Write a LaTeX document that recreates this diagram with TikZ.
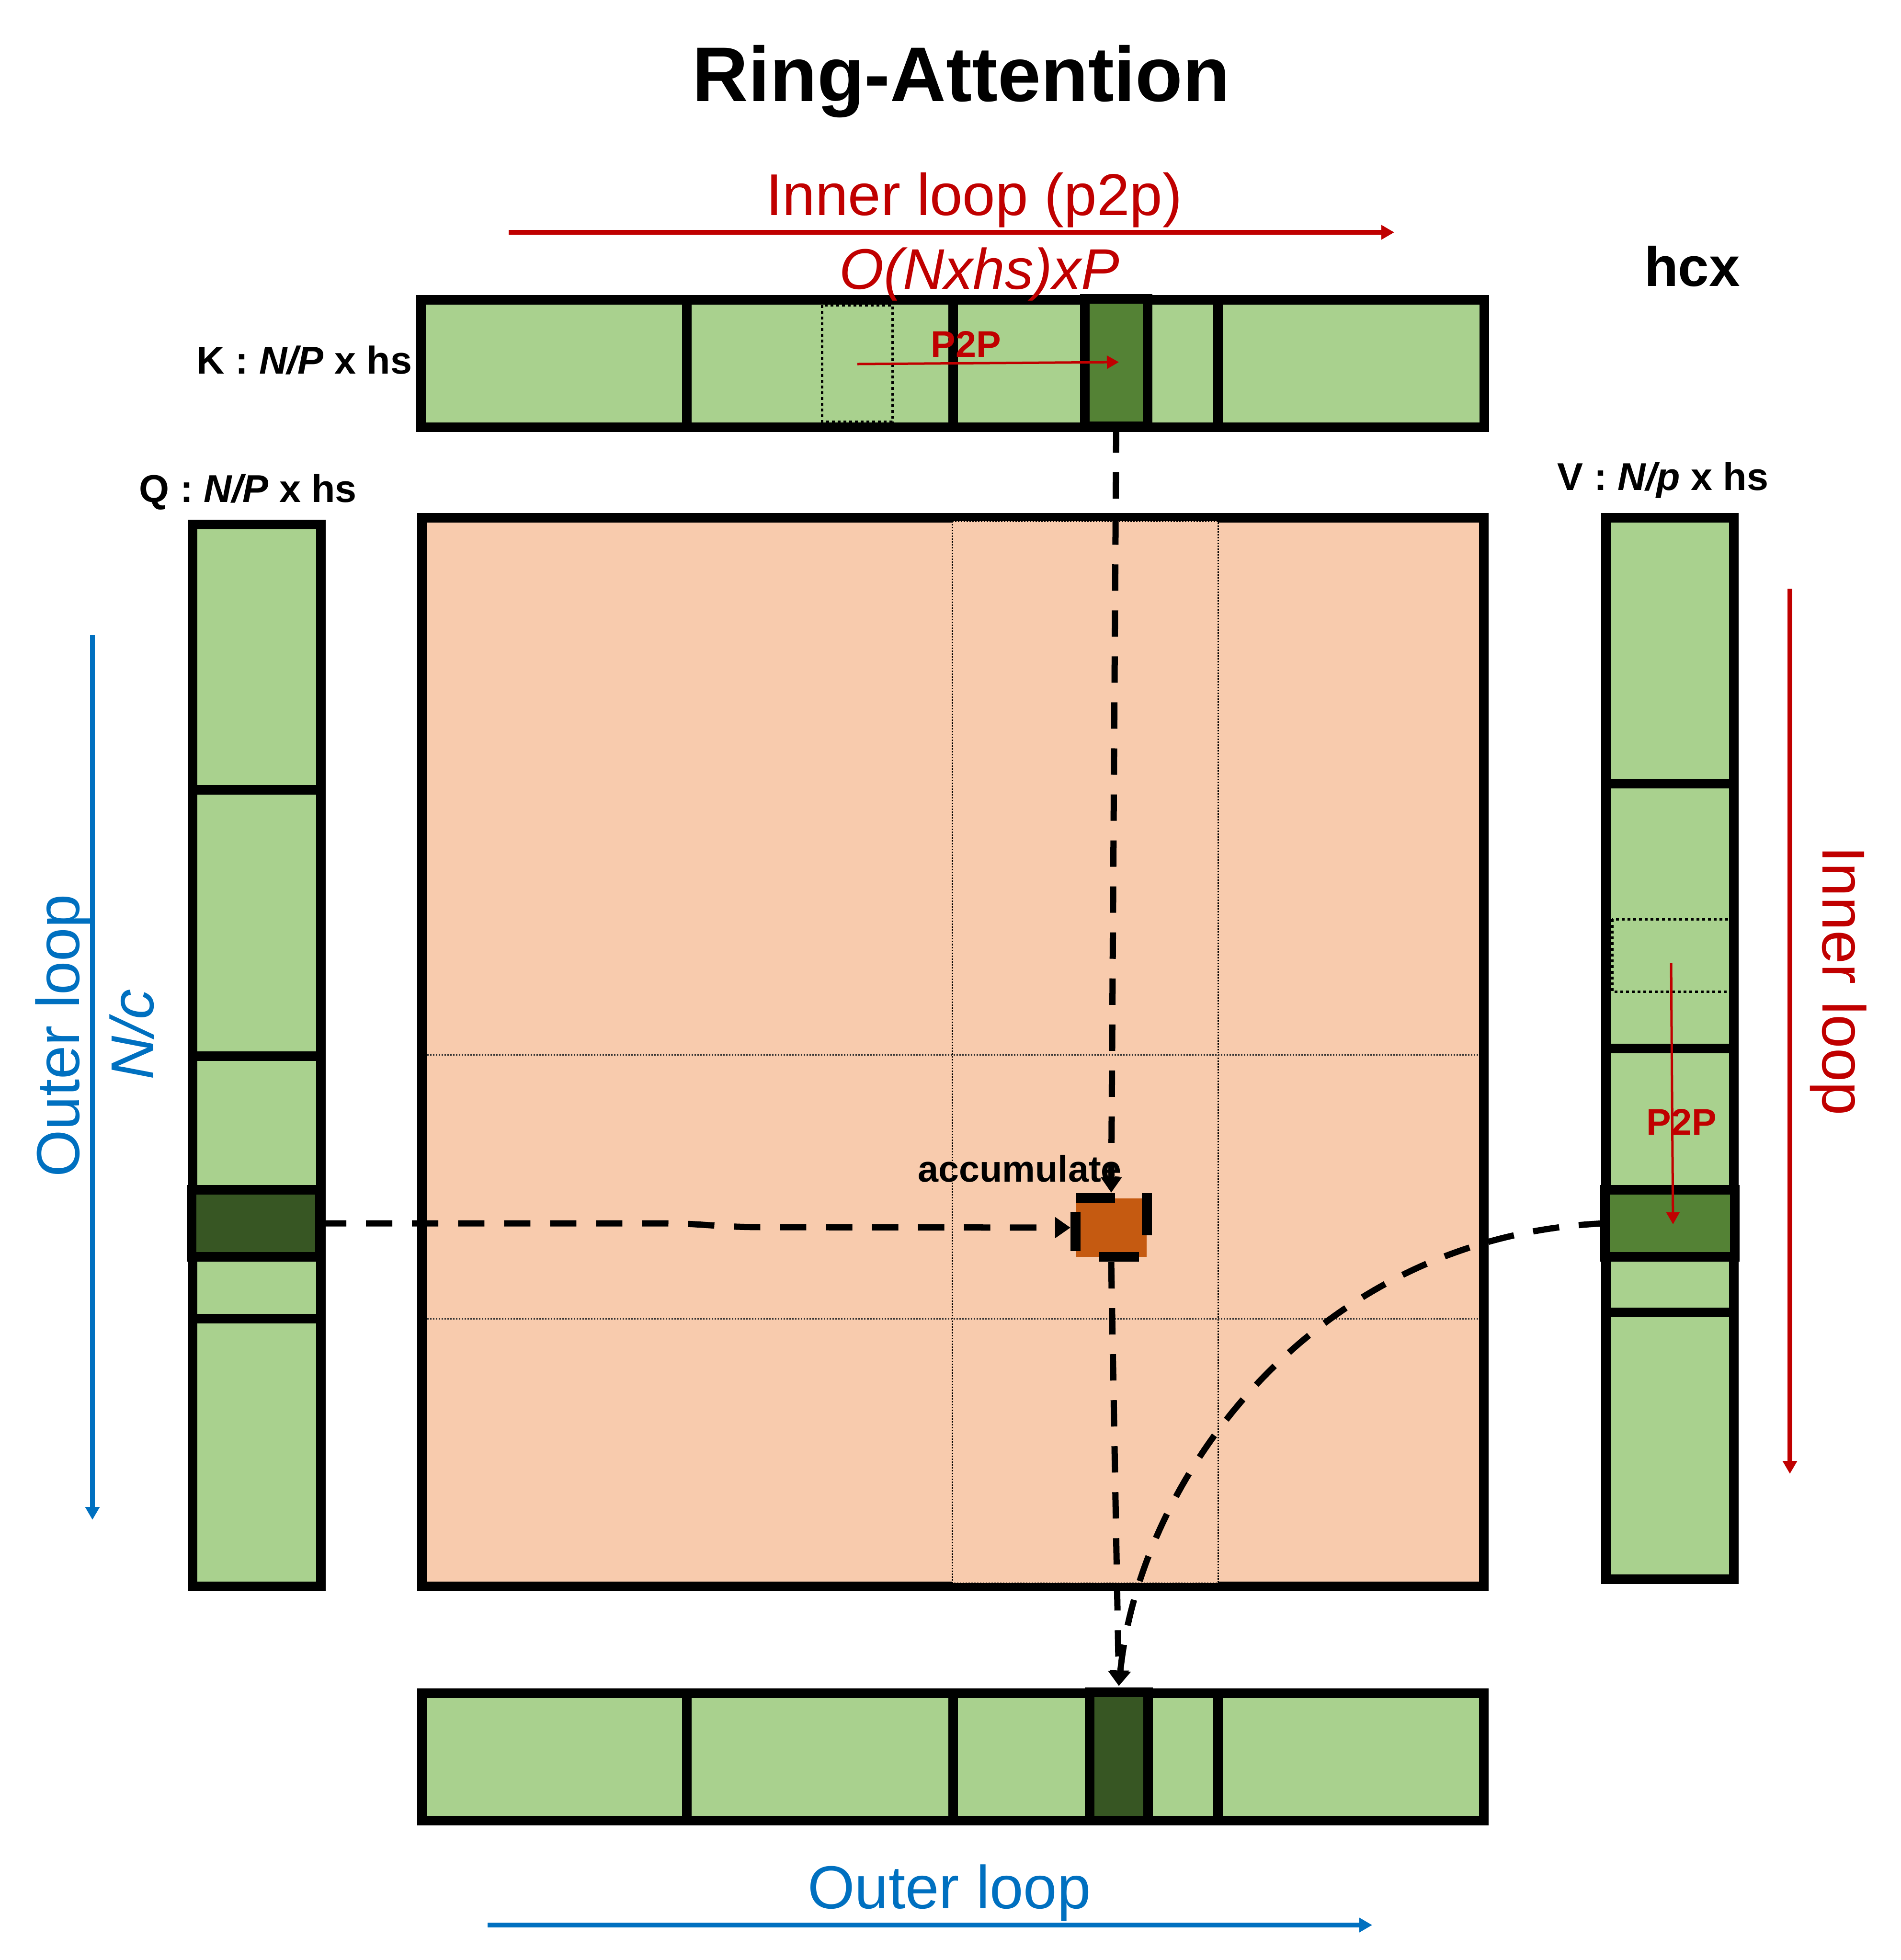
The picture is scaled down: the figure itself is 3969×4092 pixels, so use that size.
\documentclass[tikz,border=0pt]{standalone}
\usepackage{fontspec}
\setmainfont{Liberation Sans}
\usetikzlibrary{arrows.meta}
\definecolor{lgreen}{HTML}{A9D18E}
\definecolor{mgreen}{HTML}{548235}
\definecolor{dgreen}{HTML}{375623}
\definecolor{peach}{HTML}{F8CBAD}
\definecolor{orng}{HTML}{C55A11}
\definecolor{dred}{HTML}{C00000}
\definecolor{dblue}{HTML}{0070C0}
\begin{document}
\begin{tikzpicture}[x=0.01cm,y=-0.01cm,
  thickb/.style={draw=black,line width=0.2cm},
  blk/.style={thickb,inner sep=0pt,outer sep=0pt,anchor=center},
  dotrect/.style={draw=black,line width=0.05cm,dash pattern=on 0.06cm off 0.06cm},
  thinline/.style={draw=black!80,line width=0.03cm,dash pattern=on 0.03cm off 0.03cm},
  conn/.style={draw=black,line width=0.13cm,dash pattern=on 0.55cm off 0.41cm,-{Triangle[length=0.32cm,width=0.42cm]}},
  redarr/.style={draw=dred,line width=0.1cm,-{Triangle[length=0.27cm,width=0.29cm]}},
  bluearr/.style={draw=dblue,line width=0.1cm,-{Triangle[length=0.27cm,width=0.29cm]}},
  p2parr/.style={draw=dred,line width=0.05cm,-{Triangle[length=0.25cm,width=0.27cm]}},
  lbl/.style={anchor=base,inner sep=0pt,font=\bfseries\fontsize{23}{26}\selectfont},
  ptext/.style={anchor=base,inner sep=0pt,text=dred,font=\bfseries\fontsize{22}{25}\selectfont},
  bigtext/.style={anchor=base,inner sep=0pt,font=\fontsize{36}{40}\selectfont}]
\useasboundingbox (0,0) rectangle (3969,4092);

% main matrix
\node[blk,fill=peach,minimum width=22.15cm,minimum height=22.29cm] (mat) at (1989.5,2196.5) {};
\path[fill=peach,draw=black,line width=0.03cm,dash pattern=on 0.03cm off 0.03cm] (1988,1088) rectangle (2543,3305);
\draw[thinline] (892,2202) -- (3087,2202);
\draw[thinline] (892,2753) -- (3087,2753);

% K bar
\node[blk,fill=lgreen,minimum width=22.18cm,minimum height=2.66cm] (kbar) at (1989,759) {};
\foreach \x in {1434,1990,2543} \draw[thickb] (\x,626) -- (\x,892);
\draw[dotrect] (1716,637) rectangle (1863,880);
\node[blk,fill=mgreen,minimum width=1.31cm,minimum height=2.66cm] (kdark) at (2330.5,757) {};

% bottom bar
\node[blk,fill=lgreen,minimum width=22.15cm,minimum height=2.66cm] (bbar) at (1989.5,3668) {};
\foreach \x in {1434,1990,2543} \draw[thickb] (\x,3535) -- (\x,3801);
\node[blk,fill=dgreen,minimum width=1.22cm,minimum height=2.68cm] (bdark) at (2336,3667) {};

% Q bar
\node[blk,fill=lgreen,minimum width=2.68cm,minimum height=22.15cm] (qbar) at (536,2203.5) {};
\foreach \y in {1649,2205,2753} \draw[thickb] (402,\y) -- (670,\y);
\node[blk,fill=dgreen,minimum width=2.68cm,minimum height=1.40cm] (qdark) at (534,2554) {};

% V bar
\node[blk,fill=lgreen,minimum width=2.67cm,minimum height=22.14cm] (vbar) at (3486.5,2189) {};
\foreach \y in {1636,2189,2740} \draw[thickb] (3353,\y) -- (3620,\y);
\draw[dotrect] (3366,1919) rectangle (3612,2070);
\node[blk,fill=mgreen,minimum width=2.71cm,minimum height=1.40cm] (vdark) at (3486.5,2554) {};

% accumulate block
\node[fill=orng,inner sep=0pt,outer sep=0pt,minimum width=1.48cm,minimum height=1.22cm] (acc) at (2320,2563) {};
\fill[black] (2246,2491) rectangle (2328,2512);
\fill[black] (2384,2491) rectangle (2405,2579);
\fill[black] (2235,2530) rectangle (2256,2612);
\fill[black] (2295,2614) rectangle (2378,2634);

% connectors
\draw[conn] (kdark.south) -- ([yshift=0.12cm]acc.north);
\draw[conn] (qdark.east) -- (1380,2554) .. controls (1470,2554) and (1490,2562) .. (1600,2562) -- ([xshift=-0.11cm]acc.west);
\draw[conn] ([yshift=-0.11cm]acc.south) -- ([yshift=0.13cm]bdark.north);
\draw[conn] (vdark.west) .. controls (2750,2580) and (2380,3080) .. ([yshift=0.13cm]bdark.north);

% P2P arrows
\draw[p2parr] (1790,760) -- (2336,756);
\node[ptext] (kp2p) at (2017,745) {P2P};
\draw[p2parr] (3489,2011) -- (3493,2556);
\node[ptext] (vp2p) at (3511,2369) {P2P};

% loop arrows
\draw[redarr] (1062,485) -- (2911,485);
\draw[redarr] (3737,1229) -- (3737,3077);
\draw[bluearr] (193,1326) -- (193,3173);
\draw[bluearr] (1018,4019) -- (2865,4019);

% texts
\node[anchor=base,inner sep=0pt,font=\bfseries\fontsize{46}{50}\selectfont] (title) at (2007,211) {Ring-Attention};
\node[bigtext,text=dred,font=\fontsize{35}{40}\selectfont] (inner) at (2034,449) {Inner loop (p2p)};
\node[bigtext,text=dred,font=\itshape\fontsize{34}{40}\selectfont] (cost) at (2045,603) {O(Nxhs)xP};
\node[anchor=base,inner sep=0pt,font=\bfseries\fontsize{33}{38}\selectfont] (hcx) at (3533,597) {hcx};
\node[lbl,anchor=base east] (klab) at (861,780) {K : \textit{N/P} x hs};
\node[lbl] (qlab) at (518,1048) {Q : \textit{N/P} x hs};
\node[lbl] (vlab) at (3472,1023) {V : \textit{N/p} x hs};
\node[anchor=base,inner sep=0pt,font=\bfseries\fontsize{22}{25}\selectfont] (acctext) at (2129,2467) {accumulate};
\node[bigtext,text=dblue] (outerb) at (1982,3984) {Outer loop};
\node[bigtext,text=dblue,rotate=90] (outerl) at (165,2162) {Outer loop};
\node[bigtext,text=dblue,rotate=90,font=\itshape\fontsize{36}{40}\selectfont] (nc) at (320,2160) {N/c};
\node[bigtext,text=dred,rotate=-90] (innerr) at (3805,2048) {Inner loop};
\end{tikzpicture}
\end{document}
